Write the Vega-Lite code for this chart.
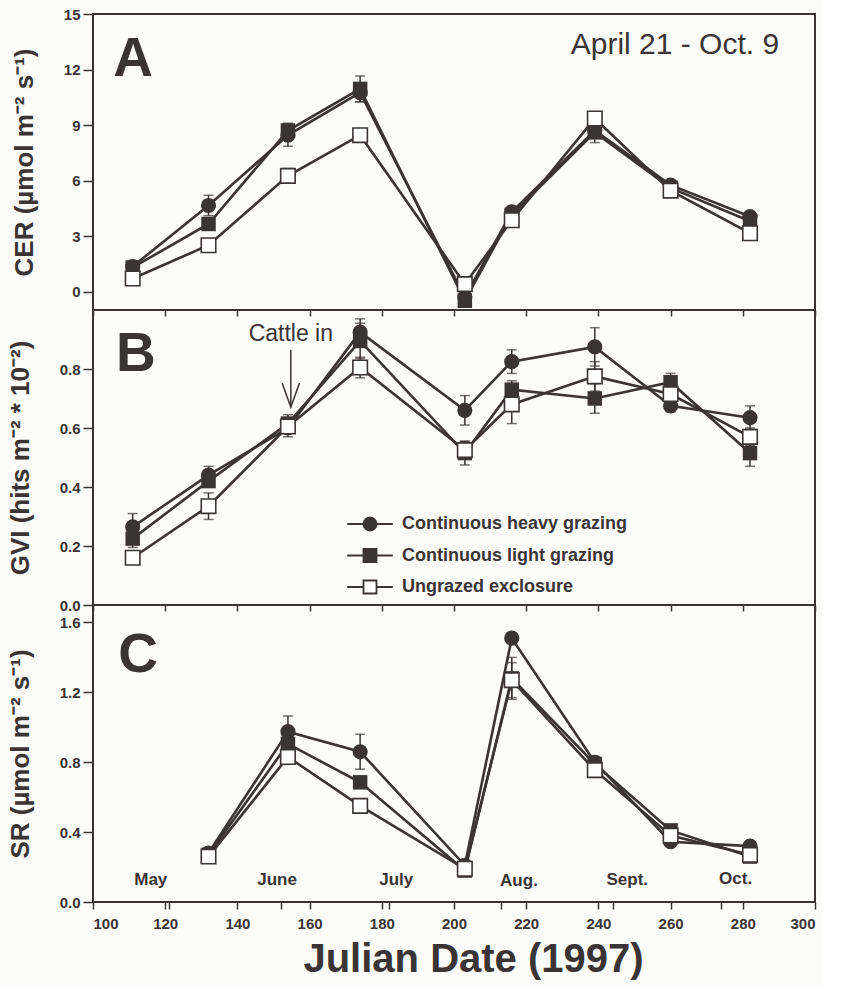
{
  "$schema": "https://vega.github.io/schema/vega-lite/v6.json",
  "background": "#fbfbf9",
  "padding": {"left": 6, "top": 6, "right": 5, "bottom": 5},
  "bounds": "flush",
  "spacing": 0,
  "datasets": {
    "obs": [
      {"panel": "A", "series": "Continuous heavy grazing", "day": 111, "value": 1.35, "err": 0.15},
      {"panel": "A", "series": "Continuous heavy grazing", "day": 132, "value": 4.65, "err": 0.55},
      {"panel": "A", "series": "Continuous heavy grazing", "day": 154, "value": 8.45, "err": 0.6},
      {"panel": "A", "series": "Continuous heavy grazing", "day": 174, "value": 10.75, "err": 0.5},
      {"panel": "A", "series": "Continuous heavy grazing", "day": 203, "value": -0.3, "err": 0.2},
      {"panel": "A", "series": "Continuous heavy grazing", "day": 216, "value": 4.3, "err": 0.3},
      {"panel": "A", "series": "Continuous heavy grazing", "day": 239, "value": 8.7, "err": 0.3},
      {"panel": "A", "series": "Continuous heavy grazing", "day": 260, "value": 5.75, "err": 0.2},
      {"panel": "A", "series": "Continuous heavy grazing", "day": 282, "value": 4.05, "err": 0.2},
      {"panel": "A", "series": "Continuous light grazing", "day": 111, "value": 1.3, "err": 0.1},
      {"panel": "A", "series": "Continuous light grazing", "day": 132, "value": 3.65, "err": 0.3},
      {"panel": "A", "series": "Continuous light grazing", "day": 154, "value": 8.7, "err": 0.4},
      {"panel": "A", "series": "Continuous light grazing", "day": 174, "value": 10.95, "err": 0.7},
      {"panel": "A", "series": "Continuous light grazing", "day": 203, "value": -0.5, "err": 0.3},
      {"panel": "A", "series": "Continuous light grazing", "day": 216, "value": 4.15, "err": 0.35},
      {"panel": "A", "series": "Continuous light grazing", "day": 239, "value": 8.6, "err": 0.55},
      {"panel": "A", "series": "Continuous light grazing", "day": 260, "value": 5.6, "err": 0.2},
      {"panel": "A", "series": "Continuous light grazing", "day": 282, "value": 3.8, "err": 0.2},
      {"panel": "A", "series": "Ungrazed exclosure", "day": 111, "value": 0.7, "err": 0.1},
      {"panel": "A", "series": "Ungrazed exclosure", "day": 132, "value": 2.5, "err": 0.2},
      {"panel": "A", "series": "Ungrazed exclosure", "day": 154, "value": 6.25, "err": 0.4},
      {"panel": "A", "series": "Ungrazed exclosure", "day": 174, "value": 8.45, "err": 0.2},
      {"panel": "A", "series": "Ungrazed exclosure", "day": 203, "value": 0.4, "err": 0.2},
      {"panel": "A", "series": "Ungrazed exclosure", "day": 216, "value": 3.85, "err": 0.25},
      {"panel": "A", "series": "Ungrazed exclosure", "day": 239, "value": 9.35, "err": 0.3},
      {"panel": "A", "series": "Ungrazed exclosure", "day": 260, "value": 5.45, "err": 0.2},
      {"panel": "A", "series": "Ungrazed exclosure", "day": 282, "value": 3.15, "err": 0.2},
      {"panel": "B", "series": "Continuous heavy grazing", "day": 111, "value": 0.265, "err": 0.045},
      {"panel": "B", "series": "Continuous heavy grazing", "day": 132, "value": 0.44, "err": 0.03},
      {"panel": "B", "series": "Continuous heavy grazing", "day": 154, "value": 0.6, "err": 0.03},
      {"panel": "B", "series": "Continuous heavy grazing", "day": 174, "value": 0.925, "err": 0.045},
      {"panel": "B", "series": "Continuous heavy grazing", "day": 203, "value": 0.66, "err": 0.05},
      {"panel": "B", "series": "Continuous heavy grazing", "day": 216, "value": 0.825, "err": 0.04},
      {"panel": "B", "series": "Continuous heavy grazing", "day": 239, "value": 0.875, "err": 0.065},
      {"panel": "B", "series": "Continuous heavy grazing", "day": 260, "value": 0.675, "err": 0.02},
      {"panel": "B", "series": "Continuous heavy grazing", "day": 282, "value": 0.635, "err": 0.04},
      {"panel": "B", "series": "Continuous light grazing", "day": 111, "value": 0.225, "err": 0.03},
      {"panel": "B", "series": "Continuous light grazing", "day": 132, "value": 0.42, "err": 0.02},
      {"panel": "B", "series": "Continuous light grazing", "day": 154, "value": 0.615, "err": 0.03},
      {"panel": "B", "series": "Continuous light grazing", "day": 174, "value": 0.895, "err": 0.06},
      {"panel": "B", "series": "Continuous light grazing", "day": 203, "value": 0.515, "err": 0.04},
      {"panel": "B", "series": "Continuous light grazing", "day": 216, "value": 0.73, "err": 0.03},
      {"panel": "B", "series": "Continuous light grazing", "day": 239, "value": 0.7, "err": 0.05},
      {"panel": "B", "series": "Continuous light grazing", "day": 260, "value": 0.755, "err": 0.03},
      {"panel": "B", "series": "Continuous light grazing", "day": 282, "value": 0.515, "err": 0.045},
      {"panel": "B", "series": "Ungrazed exclosure", "day": 111, "value": 0.16, "err": 0.02},
      {"panel": "B", "series": "Ungrazed exclosure", "day": 132, "value": 0.335, "err": 0.045},
      {"panel": "B", "series": "Ungrazed exclosure", "day": 154, "value": 0.605, "err": 0.02},
      {"panel": "B", "series": "Ungrazed exclosure", "day": 174, "value": 0.805, "err": 0.035},
      {"panel": "B", "series": "Ungrazed exclosure", "day": 203, "value": 0.525, "err": 0.03},
      {"panel": "B", "series": "Ungrazed exclosure", "day": 216, "value": 0.68, "err": 0.065},
      {"panel": "B", "series": "Ungrazed exclosure", "day": 239, "value": 0.775, "err": 0.05},
      {"panel": "B", "series": "Ungrazed exclosure", "day": 260, "value": 0.715, "err": 0.03},
      {"panel": "B", "series": "Ungrazed exclosure", "day": 282, "value": 0.57, "err": 0.03},
      {"panel": "C", "series": "Continuous heavy grazing", "day": 132, "value": 0.28, "err": 0.03},
      {"panel": "C", "series": "Continuous heavy grazing", "day": 154, "value": 0.975, "err": 0.09},
      {"panel": "C", "series": "Continuous heavy grazing", "day": 174, "value": 0.86, "err": 0.1},
      {"panel": "C", "series": "Continuous heavy grazing", "day": 203, "value": 0.21, "err": 0.02},
      {"panel": "C", "series": "Continuous heavy grazing", "day": 216, "value": 1.51, "err": 0.03},
      {"panel": "C", "series": "Continuous heavy grazing", "day": 239, "value": 0.8, "err": 0.03},
      {"panel": "C", "series": "Continuous heavy grazing", "day": 260, "value": 0.345, "err": 0.02},
      {"panel": "C", "series": "Continuous heavy grazing", "day": 282, "value": 0.32, "err": 0.02},
      {"panel": "C", "series": "Continuous light grazing", "day": 132, "value": 0.27, "err": 0.02},
      {"panel": "C", "series": "Continuous light grazing", "day": 154, "value": 0.905, "err": 0.04},
      {"panel": "C", "series": "Continuous light grazing", "day": 174, "value": 0.685, "err": 0.03},
      {"panel": "C", "series": "Continuous light grazing", "day": 203, "value": 0.18, "err": 0.02},
      {"panel": "C", "series": "Continuous light grazing", "day": 216, "value": 1.28, "err": 0.12},
      {"panel": "C", "series": "Continuous light grazing", "day": 239, "value": 0.79, "err": 0.03},
      {"panel": "C", "series": "Continuous light grazing", "day": 260, "value": 0.41, "err": 0.02},
      {"panel": "C", "series": "Continuous light grazing", "day": 282, "value": 0.26, "err": 0.02},
      {"panel": "C", "series": "Ungrazed exclosure", "day": 132, "value": 0.26, "err": 0.02},
      {"panel": "C", "series": "Ungrazed exclosure", "day": 154, "value": 0.83, "err": 0.03},
      {"panel": "C", "series": "Ungrazed exclosure", "day": 174, "value": 0.55, "err": 0.03},
      {"panel": "C", "series": "Ungrazed exclosure", "day": 203, "value": 0.19, "err": 0.02},
      {"panel": "C", "series": "Ungrazed exclosure", "day": 216, "value": 1.27, "err": 0.1},
      {"panel": "C", "series": "Ungrazed exclosure", "day": 239, "value": 0.755, "err": 0.03},
      {"panel": "C", "series": "Ungrazed exclosure", "day": 260, "value": 0.38, "err": 0.02},
      {"panel": "C", "series": "Ungrazed exclosure", "day": 282, "value": 0.27, "err": 0.02}
    ]
  },
  "vconcat": [
    {
      "width": 722,
      "height": 296,
      "data": {"name": "obs"},
      "transform": [{"filter": "datum.panel == 'A'"}],
      "encoding": {
        "x": {"field": "day", "type": "quantitative", "scale": {"domain": [100, 300], "nice": false},
              "axis": {"values": [100, 120, 140, 160, 180, 200, 220, 240, 260, 280, 300], "labels": false, "tickSize": 6, "title": null}},
        "y": {"field": "value", "type": "quantitative", "scale": {"domain": [-1, 15], "nice": false, "zero": false},
              "axis": {"values": [0, 3, 6, 9, 12, 15], "title": "CER (µmol m⁻² s⁻¹)"}}
      },
      "layer": [
        {"mark": {"type": "line", "color": "#3b3435"},
         "encoding": {"detail": {"field": "series"},
                      "strokeWidth": {"field": "series", "type": "nominal", "scale": {"domain": ["Continuous heavy grazing", "Continuous light grazing", "Ungrazed exclosure"], "range": [2.6, 2.6, 1.8]}, "legend": null}}},
        {"mark": {"type": "errorbar", "color": "#3b3435", "thickness": 1.5, "ticks": {"size": 10, "thickness": 1.5, "color": "#3b3435"}},
         "encoding": {"yError": {"field": "err"}}},
        {"transform": [{"filter": "datum.series == 'Continuous heavy grazing'"}],
         "mark": {"type": "point", "shape": "circle", "filled": true, "color": "#3b3435", "size": 230, "opacity": 1}},
        {"transform": [{"filter": "datum.series == 'Continuous light grazing'"}],
         "mark": {"type": "point", "shape": "square", "filled": true, "color": "#3b3435", "size": 210, "opacity": 1}},
        {"transform": [{"filter": "datum.series == 'Ungrazed exclosure'"}],
         "mark": {"type": "point", "shape": "square", "fill": "#ffffff", "stroke": "#3b3435", "strokeWidth": 1.6, "size": 210, "opacity": 1}},
        {"transform": [{"filter": "datum.day == 111 && datum.series == 'Continuous heavy grazing'"}],
         "mark": {"type": "text", "fontSize": 55, "fontWeight": "bold", "font": "Liberation Sans", "color": "#3b3435"},
         "encoding": {"x": {"datum": 111.1}, "y": {"datum": 12.55}, "text": {"value": "A"}}},
        {"transform": [{"filter": "datum.day == 111 && datum.series == 'Continuous heavy grazing'"}],
         "mark": {"type": "text", "fontSize": 30, "font": "Liberation Sans", "color": "#3b3435"},
         "encoding": {"x": {"datum": 261.2}, "y": {"datum": 13.3}, "text": {"value": "April 21 - Oct. 9"}}}
      ]
    },
    {
      "width": 722,
      "height": 295,
      "data": {"name": "obs"},
      "transform": [{"filter": "datum.panel == 'B'"}],
      "encoding": {
        "x": {"field": "day", "type": "quantitative", "scale": {"domain": [100, 300], "nice": false},
              "axis": {"values": [100, 120, 140, 160, 180, 200, 220, 240, 260, 280, 300], "labels": false, "tickSize": 6, "title": null}},
        "y": {"field": "value", "type": "quantitative", "scale": {"domain": [0, 1], "nice": false},
              "axis": {"values": [0, 0.2, 0.4, 0.6, 0.8], "format": ".1f", "title": "GVI  (hits m⁻² * 10⁻²)"}}
      },
      "layer": [
        {"mark": {"type": "point", "stroke": "#3b3435", "strokeWidth": 1, "size": 1, "opacity": 1},
         "encoding": {
           "shape": {"field": "series", "type": "nominal",
                     "scale": {"domain": ["Continuous heavy grazing", "Continuous light grazing", "Ungrazed exclosure"],
                               "range": ["M-3.5,0H-1M1,0H3.5M1,0A1,1,0,1,1,-1,0A1,1,0,1,1,1,0Z", "M-3.5,0H3.5M-1,-1H1V1H-1Z", "M-3.5,0H-1M1,0H3.5M-1,-1H1V1H-1Z"]},
                     "legend": {"orient": "none", "legendX": 268, "legendY": 205, "title": null, "labelFontSize": 18, "labelFontWeight": "bold", "labelFont": "Liberation Sans", "labelColor": "#3b3435", "labelLimit": 400, "symbolSize": 169, "rowPadding": 9.5, "labelOffset": 23, "symbolStrokeWidth": 1.8, "symbolStrokeColor": "#3b3435", "symbolOpacity": 1, "padding": 0,
                                "encode": {"symbols": {"update": {"stroke": {"value": "#3b3435"}, "strokeWidth": {"value": 1.8}, "opacity": {"value": 1}}}}}},
           "fill": {"field": "series", "type": "nominal",
                    "scale": {"domain": ["Continuous heavy grazing", "Continuous light grazing", "Ungrazed exclosure"], "range": ["#3b3435", "#3b3435", "#ffffff"]},
                    "legend": {"orient": "none", "legendX": 268, "legendY": 205, "title": null, "labelFontSize": 18, "labelFontWeight": "bold", "labelFont": "Liberation Sans", "labelColor": "#3b3435", "labelLimit": 400, "symbolSize": 169, "rowPadding": 9.5, "labelOffset": 23, "symbolStrokeWidth": 1.8, "symbolStrokeColor": "#3b3435", "symbolOpacity": 1, "padding": 0,
                               "encode": {"symbols": {"update": {"stroke": {"value": "#3b3435"}, "strokeWidth": {"value": 1.8}, "opacity": {"value": 1}}}}}}
         }},
        {"mark": {"type": "line", "color": "#3b3435"},
         "encoding": {"detail": {"field": "series"},
                      "strokeWidth": {"field": "series", "type": "nominal", "scale": {"domain": ["Continuous heavy grazing", "Continuous light grazing", "Ungrazed exclosure"], "range": [2.6, 2.6, 1.8]}, "legend": null}}},
        {"mark": {"type": "errorbar", "color": "#3b3435", "thickness": 1.5, "ticks": {"size": 10, "thickness": 1.5, "color": "#3b3435"}},
         "encoding": {"yError": {"field": "err"}}},
        {"transform": [{"filter": "datum.series == 'Continuous heavy grazing'"}],
         "mark": {"type": "point", "shape": "circle", "filled": true, "color": "#3b3435", "size": 230, "opacity": 1}},
        {"transform": [{"filter": "datum.series == 'Continuous light grazing'"}],
         "mark": {"type": "point", "shape": "square", "filled": true, "color": "#3b3435", "size": 210, "opacity": 1}},
        {"transform": [{"filter": "datum.series == 'Ungrazed exclosure'"}],
         "mark": {"type": "point", "shape": "square", "fill": "#ffffff", "stroke": "#3b3435", "strokeWidth": 1.6, "size": 210, "opacity": 1}},
        {"transform": [{"filter": "datum.day == 111 && datum.series == 'Continuous heavy grazing'"}],
         "mark": {"type": "text", "fontSize": 55, "fontWeight": "bold", "font": "Liberation Sans", "color": "#3b3435"},
         "encoding": {"x": {"datum": 111.9}, "y": {"datum": 0.851}, "text": {"value": "B"}}},
        {"transform": [{"filter": "datum.day == 111 && datum.series == 'Continuous heavy grazing'"}],
         "mark": {"type": "text", "fontSize": 23, "font": "Liberation Sans", "color": "#3b3435"},
         "encoding": {"x": {"datum": 154.8}, "y": {"datum": 0.92}, "text": {"value": "Cattle in"}}},
        {"transform": [{"filter": "datum.day == 111 && datum.series == 'Continuous heavy grazing'"}],
         "mark": {"type": "rule", "color": "#3b3435", "strokeWidth": 1.5},
         "encoding": {"x": {"datum": 154.8}, "y": {"datum": 0.865}, "y2": {"datum": 0.67}}},
        {"transform": [{"filter": "datum.day == 111 && datum.series == 'Continuous heavy grazing'"}],
         "mark": {"type": "point", "shape": "M-1,-2.8L0,0L1,-2.8", "filled": false, "stroke": "#3b3435", "strokeWidth": 1.5, "size": 300, "opacity": 1},
         "encoding": {"x": {"datum": 154.8}, "y": {"datum": 0.67}}}
      ],
      "resolve": {"scale": {"shape": "independent", "fill": "independent"}}
    },
    {
      "width": 722,
      "height": 297,
      "data": {"name": "obs"},
      "transform": [{"filter": "datum.panel == 'C'"}],
      "encoding": {
        "x": {"field": "day", "type": "quantitative", "scale": {"domain": [100, 300], "nice": false},
              "axis": {"values": [100, 120, 121, 140, 152, 160, 180, 182, 200, 213, 220, 240, 244, 260, 274, 280, 300],
                       "labelExpr": "datum.value % 20 == 0 ? datum.label : ''",
                       "tickSize": 7, "labelPadding": 7, "title": "Julian Date (1997)",
                       "titleFont": "Liberation Sans", "titleFontSize": 40, "titleFontWeight": "bold", "titlePadding": 8, "titleX": 380}},
        "y": {"field": "value", "type": "quantitative", "scale": {"domain": [0, 1.7], "nice": false},
              "axis": {"values": [0, 0.4, 0.8, 1.2, 1.6], "format": ".1f", "title": "SR (µmol m⁻² s⁻¹)"}}
      },
      "layer": [
        {"mark": {"type": "line", "color": "#3b3435"},
         "encoding": {"detail": {"field": "series"},
                      "strokeWidth": {"field": "series", "type": "nominal", "scale": {"domain": ["Continuous heavy grazing", "Continuous light grazing", "Ungrazed exclosure"], "range": [2.6, 2.6, 1.8]}, "legend": null}}},
        {"mark": {"type": "errorbar", "color": "#3b3435", "thickness": 1.5, "ticks": {"size": 10, "thickness": 1.5, "color": "#3b3435"}},
         "encoding": {"yError": {"field": "err"}}},
        {"transform": [{"filter": "datum.series == 'Continuous heavy grazing'"}],
         "mark": {"type": "point", "shape": "circle", "filled": true, "color": "#3b3435", "size": 230, "opacity": 1}},
        {"transform": [{"filter": "datum.series == 'Continuous light grazing'"}],
         "mark": {"type": "point", "shape": "square", "filled": true, "color": "#3b3435", "size": 210, "opacity": 1}},
        {"transform": [{"filter": "datum.series == 'Ungrazed exclosure'"}],
         "mark": {"type": "point", "shape": "square", "fill": "#ffffff", "stroke": "#3b3435", "strokeWidth": 1.6, "size": 210, "opacity": 1}},
        {"transform": [{"filter": "datum.day == 132 && datum.series == 'Continuous heavy grazing'"}],
         "mark": {"type": "text", "fontSize": 55, "fontWeight": "bold", "font": "Liberation Sans", "color": "#3b3435"},
         "encoding": {"x": {"datum": 112.5}, "y": {"datum": 1.414}, "text": {"value": "C"}}},
        {"transform": [{"filter": "datum.day == 132 && datum.series == 'Continuous heavy grazing'"}],
         "mark": {"type": "text", "fontSize": 17, "fontWeight": "bold", "font": "Liberation Sans", "color": "#3b3435"},
         "encoding": {"x": {"datum": 116}, "y": {"datum": 0.125}, "text": {"value": "May"}}},
        {"transform": [{"filter": "datum.day == 132 && datum.series == 'Continuous heavy grazing'"}],
         "mark": {"type": "text", "fontSize": 17, "fontWeight": "bold", "font": "Liberation Sans", "color": "#3b3435"},
         "encoding": {"x": {"datum": 151}, "y": {"datum": 0.125}, "text": {"value": "June"}}},
        {"transform": [{"filter": "datum.day == 132 && datum.series == 'Continuous heavy grazing'"}],
         "mark": {"type": "text", "fontSize": 17, "fontWeight": "bold", "font": "Liberation Sans", "color": "#3b3435"},
         "encoding": {"x": {"datum": 184}, "y": {"datum": 0.125}, "text": {"value": "July"}}},
        {"transform": [{"filter": "datum.day == 132 && datum.series == 'Continuous heavy grazing'"}],
         "mark": {"type": "text", "fontSize": 17, "fontWeight": "bold", "font": "Liberation Sans", "color": "#3b3435"},
         "encoding": {"x": {"datum": 218}, "y": {"datum": 0.12}, "text": {"value": "Aug."}}},
        {"transform": [{"filter": "datum.day == 132 && datum.series == 'Continuous heavy grazing'"}],
         "mark": {"type": "text", "fontSize": 17, "fontWeight": "bold", "font": "Liberation Sans", "color": "#3b3435"},
         "encoding": {"x": {"datum": 248}, "y": {"datum": 0.125}, "text": {"value": "Sept."}}},
        {"transform": [{"filter": "datum.day == 132 && datum.series == 'Continuous heavy grazing'"}],
         "mark": {"type": "text", "fontSize": 17, "fontWeight": "bold", "font": "Liberation Sans", "color": "#3b3435"},
         "encoding": {"x": {"datum": 278}, "y": {"datum": 0.13}, "text": {"value": "Oct."}}}
      ]
    }
  ],
  "config": {
    "view": {"stroke": "#3b3435", "strokeWidth": 2},
    "axis": {"domain": false, "grid": false, "tickColor": "#3b3435", "tickWidth": 1.5, "labelColor": "#3b3435", "titleColor": "#3b3435",
             "labelFont": "Liberation Sans", "labelFontWeight": "bold", "labelFontSize": 15, "titleFont": "Liberation Sans", "titleFontWeight": "bold"},
    "axisY": {"tickSize": 10, "labelPadding": 3, "titleFontSize": 26, "titlePadding": 26}
  }
}
